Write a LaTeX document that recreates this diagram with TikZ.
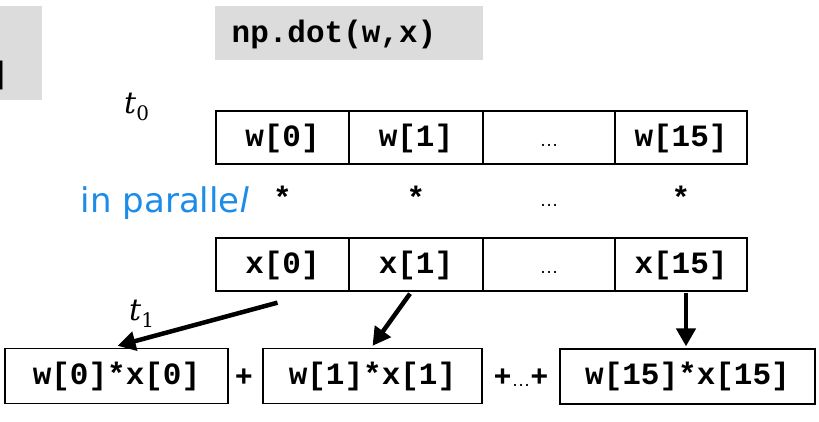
\documentclass[tikz,border=0pt]{standalone}
\usepackage{fontspec}
\setmonofont{Liberation Mono}
\newfontfamily\sansf{Liberation Sans}
\newfontfamily\handf{DejaVu Sans}
\newfontfamily\timef{DejaVu Serif}
\usetikzlibrary{arrows.meta}
\definecolor{panelgray}{RGB}{220,220,220}
\definecolor{inkblue}{RGB}{28,140,232}
\begin{document}
\begin{tikzpicture}[x=1pt,y=-1pt,
  code/.style={font=\fontsize{31}{31}\selectfont\ttfamily\bfseries},
  cell/.style={draw,line width=1.3pt,minimum height=53pt,inner sep=0pt,
    text height=22pt,text depth=4pt,code},
  prod/.style={draw,line width=1.3pt,minimum height=55pt,inner sep=0pt,code},
  dots/.style={font=\fontsize{19}{19}\selectfont\sansf},
  plus/.style={font=\fontsize{30}{30}\selectfont\sansf\bfseries,inner sep=0pt},
  star/.style={code,inner sep=0pt},
  flow/.style={line width=4.5pt,-{Triangle[length=18pt,width=19pt]}},
  tlabel/.style={font=\fontsize{30}{30}\selectfont\timef\itshape,inner sep=0pt}]
\useasboundingbox (0,0) rectangle (819,421);
% code panels
\fill[panelgray] (0,6) rectangle (42,100);
\node[code,anchor=east,inner sep=0pt] (lb) at (8.5,75) {]};
\fill[panelgray] (215,6) rectangle (483,60);
\node[code] (call) at (334,34) {np.dot(w,x)};
% time labels
\node[tlabel,anchor=base west] (t0) at (124,113) {t\raisebox{-7pt}{\fontsize{20}{20}\selectfont\upshape 0}};
\node[tlabel,anchor=base west] (t1) at (129,320) {t\raisebox{-7pt}{\fontsize{20}{20}\selectfont\upshape 1}};
% weight row
\node[cell,minimum width=133pt] (w0) at (282.5,137.5) {w[0]};
\node[cell,minimum width=134pt] (w1) at (416,137.5) {w[1]};
\node[cell,minimum width=132pt,dots] (wd) at (549,137.5) {…};
\node[cell,minimum width=132pt] (w15) at (681,137.5) {w[15]};
% element-wise multiply
\node[font=\fontsize{34}{34}\selectfont\handf,text=inkblue,anchor=base] (par) at (165,212) {in paralle\textit{l}};
\node[star] (s0) at (282.5,197) {*};
\node[star] (s1) at (416,197) {*};
\node[dots,anchor=base] (sd) at (549,206) {…};
\node[star] (s15) at (681,197) {*};
% input row
\node[cell,minimum width=133pt] (x0) at (282.5,264.5) {x[0]};
\node[cell,minimum width=134pt] (x1) at (416,264.5) {x[1]};
\node[cell,minimum width=132pt,dots] (xd) at (549,264.5) {…};
\node[cell,minimum width=132pt] (x15) at (681,264.5) {x[15]};
% products
\node[prod,minimum width=223pt] (p0) at (116.5,376) {w[0]*x[0]};
\node[plus] (pl1) at (244,378) {+};
\node[plus] (pl2) at (521,378) {+\fontsize{19}{19}\selectfont\mdseries…\fontsize{30}{30}\selectfont\bfseries+};
\node[prod,minimum width=255pt] (p15) at (687.5,376.5) {w[15]*x[15]};
\node[prod,minimum width=219pt] (p1) at (372.5,376) {w[1]*x[1]};
% arrows
\coordinate (a0) at ([xshift=-5pt,yshift=-11pt]x0.south);
\coordinate (a1) at ([xshift=-6pt,yshift=-2pt]x1.south);
\coordinate (a15) at ([xshift=5pt,yshift=-1pt]x15.south);
\draw[flow] (a0) -- ([xshift=1pt,yshift=2pt]p0.north);
\draw[flow] (a1) -- ([xshift=0pt,yshift=2pt]p1.north);
\draw[flow] (a15) -- ([xshift=-1.5pt,yshift=2pt]p15.north);
\end{tikzpicture}
\end{document}
